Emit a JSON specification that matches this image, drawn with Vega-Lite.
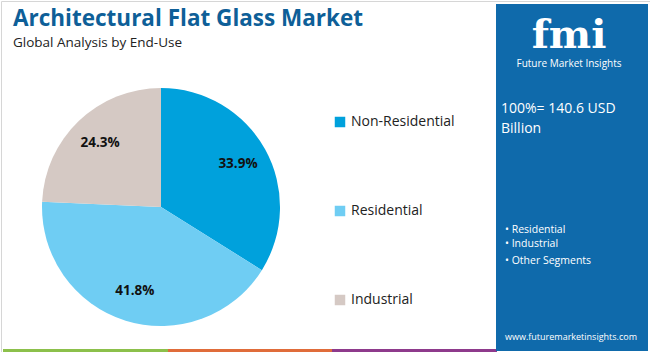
{
  "$schema": "https://vega.github.io/schema/vega-lite/v6.json",
  "width": 650,
  "height": 352,
  "autosize": {"type": "fit", "contains": "padding"},
  "padding": 0,
  "background": "white",
  "config": {"view": {"stroke": null}, "font": "Open Sans"},
  "datasets": {
    "shares": [
      {"segment": "Non-Residential", "share": 33.9, "label": "33.9%", "order": 1},
      {"segment": "Residential", "share": 41.8, "label": "41.8%", "order": 2},
      {"segment": "Industrial", "share": 24.3, "label": "24.3%", "order": 3}
    ]
  },
  "layer": [
    {
      "data": {"values": [{}]},
      "mark": {"type": "rect", "x": 0.5, "y": 0.5, "x2": 649.5, "y2": 351.5, "fill": "white", "stroke": "#d6d6d6", "strokeWidth": 1},
      "encoding": {}
    },
    {
      "data": {"values": [{}]},
      "mark": {"type": "text", "x": 12, "y": 25, "text": "Architectural Flat Glass Market", "fontSize": 22.5, "fontWeight": "bold", "color": "#0e5f98", "align": "left", "baseline": "alphabetic", "font": "Open Sans"},
      "encoding": {}
    },
    {
      "data": {"values": [{}]},
      "mark": {"type": "text", "x": 12, "y": 46, "text": "Global Analysis by End-Use", "fontSize": 13.5, "color": "#222222", "align": "left", "baseline": "alphabetic", "font": "Open Sans"},
      "encoding": {}
    },
    {
      "data": {"values": [{}]},
      "mark": {"type": "rule", "x": 5, "x2": 495, "y": 69, "y2": 69, "color": "#2f7db8", "strokeWidth": 2},
      "encoding": {}
    },
    {
      "data": {"values": [{}]},
      "mark": {"type": "rect", "x": 2, "x2": 167, "y": 348, "y2": 351, "fill": "#8cc04b"},
      "encoding": {}
    },
    {
      "data": {"values": [{}]},
      "mark": {"type": "rect", "x": 167, "x2": 331, "y": 348, "y2": 351, "fill": "#e06c3a"},
      "encoding": {}
    },
    {
      "data": {"values": [{}]},
      "mark": {"type": "rect", "x": 331, "x2": 496, "y": 348, "y2": 351, "fill": "#8e3a8c"},
      "encoding": {}
    },
    {
      "data": {"values": [{}]},
      "mark": {"type": "rect", "x": 495, "x2": 647, "y": 3, "y2": 350, "fill": "#0f6aab"},
      "encoding": {}
    },
    {
      "data": {"values": [{}]},
      "mark": {"type": "text", "x": 568, "y": 47, "text": "fmi", "fontSize": 40, "fontWeight": "bold", "color": "white", "align": "center", "baseline": "alphabetic", "font": "DejaVu Serif"},
      "encoding": {}
    },
    {
      "data": {"values": [{}]},
      "mark": {"type": "text", "x": 568, "y": 66, "text": "Future Market Insights", "fontSize": 10, "color": "white", "align": "center", "baseline": "alphabetic", "font": "Open Sans"},
      "encoding": {}
    },
    {
      "data": {"values": [{}]},
      "mark": {"type": "text", "x": 500, "y": 112, "text": "100%= 140.6 USD", "fontSize": 14, "color": "white", "align": "left", "baseline": "alphabetic", "font": "Open Sans"},
      "encoding": {}
    },
    {
      "data": {"values": [{}]},
      "mark": {"type": "text", "x": 500, "y": 132, "text": "Billion", "fontSize": 14, "color": "white", "align": "left", "baseline": "alphabetic", "font": "Open Sans"},
      "encoding": {}
    },
    {
      "data": {"values": [{}]},
      "mark": {"type": "rule", "x": 500, "x2": 639, "y": 162, "y2": 162, "color": "#a9d4f0", "strokeWidth": 1.5},
      "encoding": {}
    },
    {
      "data": {"values": [{}]},
      "mark": {"type": "text", "x": 504, "y": 229, "text": "• Residential", "fontSize": 10.5, "color": "white", "align": "left", "baseline": "middle", "font": "Open Sans"},
      "encoding": {}
    },
    {
      "data": {"values": [{}]},
      "mark": {"type": "text", "x": 504, "y": 243, "text": "• Industrial", "fontSize": 10.5, "color": "white", "align": "left", "baseline": "middle", "font": "Open Sans"},
      "encoding": {}
    },
    {
      "data": {"values": [{}]},
      "mark": {"type": "text", "x": 504, "y": 260, "text": "• Other Segments", "fontSize": 10.5, "color": "white", "align": "left", "baseline": "middle", "font": "Open Sans"},
      "encoding": {}
    },
    {
      "data": {"values": [{}]},
      "mark": {"type": "text", "x": 570, "y": 339, "text": "www.futuremarketinsights.com", "fontSize": 9, "color": "white", "align": "center", "baseline": "alphabetic", "font": "Open Sans"},
      "encoding": {}
    },
    {
      "data": {"name": "shares"},
      "mark": {"type": "arc", "x": 160, "y": 206, "outerRadius": 119},
      "encoding": {
        "theta": {"field": "share", "type": "quantitative", "stack": true},
        "order": {"field": "order", "type": "quantitative"},
        "color": {
          "field": "segment",
          "type": "nominal",
          "sort": ["Non-Residential", "Residential", "Industrial"],
          "scale": {"domain": ["Non-Residential", "Residential", "Industrial"], "range": ["#00a1dc", "#6fcdf3", "#d5c9c4"]},
          "legend": {
            "orient": "none",
            "legendX": 332,
            "legendY": 114,
            "title": null,
            "symbolType": "square",
            "symbolSize": 110,
            "symbolStrokeWidth": 0,
            "labelFontSize": 14,
            "labelColor": "#222222",
            "labelFont": "Open Sans",
            "rowPadding": 75,
            "labelOffset": 4
          }
        }
      }
    },
    {
      "data": {"name": "shares"},
      "mark": {"type": "text", "x": 160, "y": 206, "radius": 88, "fontSize": 13.5, "fontWeight": "bold", "color": "#111111", "font": "Open Sans"},
      "encoding": {
        "theta": {"field": "share", "type": "quantitative", "stack": true},
        "order": {"field": "order", "type": "quantitative"},
        "text": {"field": "label"}
      }
    }
  ]
}
